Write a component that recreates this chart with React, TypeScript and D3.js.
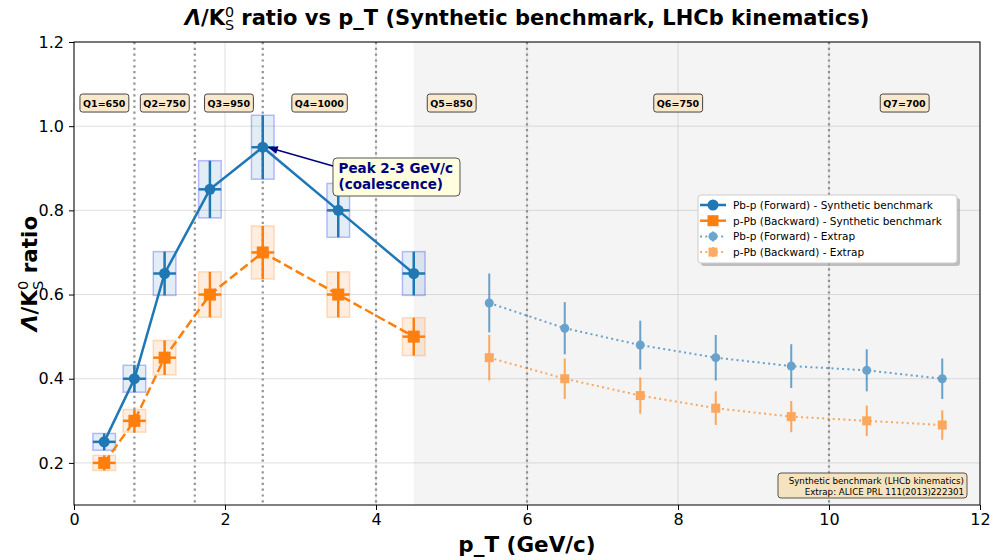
import React, { useEffect, useRef } from 'react';
import * as d3 from 'd3';

const ptMain = [0.4, 0.8, 1.2, 1.8, 2.5, 3.5, 4.5];
const fwdRatio = [0.25, 0.4, 0.65, 0.85, 0.95, 0.8, 0.65];
const fwdErr = [0.02, 0.032, 0.052, 0.068, 0.076, 0.064, 0.052];
const bwdRatio = [0.2, 0.3, 0.45, 0.6, 0.7, 0.6, 0.5];
const bwdErr = [0.018, 0.027, 0.041, 0.054, 0.063, 0.054, 0.045];
const ptExtrap = [5.5, 6.5, 7.5, 8.5, 9.5, 10.5, 11.5];
const fwdExtrap = [0.58, 0.52, 0.48, 0.45, 0.43, 0.42, 0.4];
const fwdExtrapErr = [0.07, 0.062, 0.058, 0.054, 0.052, 0.05, 0.048];
const bwdExtrap = [0.45, 0.4, 0.36, 0.33, 0.31, 0.3, 0.29];
const bwdExtrapErr = [0.054, 0.048, 0.043, 0.04, 0.037, 0.036, 0.035];
const binEdges = [0, 0.8, 1.6, 2.5, 4.0, 6.0, 10.0, 12.0];
const binLabels = ['Q1=650', 'Q2=750', 'Q3=950', 'Q4=1000', 'Q5=850', 'Q6=750', 'Q7=700'];
const xTicks = [0, 2, 4, 6, 8, 10, 12];
const yTicks = [0.2, 0.4, 0.6, 0.8, 1.0, 1.2];
const extrapFrom = 4.5;
const ptHalf = 0.15;

const BLUE = '#1f77b4';
const ORANGE = '#ff7f0e';
const FONT = 'DejaVu Sans';

// writes Λ/K_S^0 plus trailing text into a <text>
const lambdaK = (t, size, rest) => {
  const small = size * 0.68;
  t.append('tspan').attr('font-style', 'italic').text('Λ');
  t.append('tspan').text('/K');
  t.append('tspan').attr('font-size', small).attr('font-weight', 'normal').attr('dy', -size * 0.4).text('0');
  t.append('tspan').attr('font-size', small).attr('font-weight', 'normal')
    .attr('dx', -small * 0.636).attr('dy', size * 0.66).text('S');
  t.append('tspan').attr('dy', -size * 0.26).text(rest);
};

const App = () => {
  const svgRef = useRef(null);

  useEffect(() => {
    const W = 993, H = 560;
    const left = 74, right = 980, top = 42, bottom = 505;

    const svg = d3.select(svgRef.current);
    svg.selectAll('*').remove();
    svg.attr('width', W).attr('height', H).style('font-family', FONT);

    const x = d3.scaleLinear().domain([0, 12]).range([left, right]);
    const y = d3.scaleLinear().domain([0.1, 1.2]).range([bottom, top]);

    svg.append('rect').attr('width', W).attr('height', H).attr('fill', 'white');

    // extrapolation region
    svg.append('rect')
      .attr('x', x(extrapFrom)).attr('y', top)
      .attr('width', x(12) - x(extrapFrom)).attr('height', bottom - top)
      .attr('fill', '#f4f4f4');

    // grid
    const grid = svg.append('g').attr('stroke', '#b0b0b0').attr('stroke-opacity', 0.4).attr('stroke-width', 1);
    xTicks.forEach((t) => grid.append('line').attr('x1', x(t)).attr('x2', x(t)).attr('y1', top).attr('y2', bottom));
    yTicks.forEach((t) => grid.append('line').attr('x1', left).attr('x2', right).attr('y1', y(t)).attr('y2', y(t)));

    // bin boundaries
    binEdges.slice(1, -1).forEach((e) => {
      svg.append('line')
        .attr('x1', x(e)).attr('x2', x(e)).attr('y1', top).attr('y2', bottom)
        .attr('stroke', '#808080').attr('stroke-opacity', 0.85)
        .attr('stroke-width', 2.2).attr('stroke-dasharray', '2.2,3.6');
    });

    // bin labels
    binLabels.forEach((lab, i) => {
      const cx = x((binEdges[i] + binEdges[i + 1]) / 2);
      const cy = y(1.055);
      const g = svg.append('g');
      const t = g.append('text')
        .attr('x', cx).attr('y', cy + 3.5)
        .attr('text-anchor', 'middle').attr('font-size', 9.5).attr('font-weight', 'bold')
        .text(lab);
      const bb = t.node().getBBox();
      g.insert('rect', 'text')
        .attr('x', bb.x - 3).attr('y', cy - 9).attr('width', bb.width + 6).attr('height', 18)
        .attr('rx', 2.5).attr('fill', '#f8e8cc').attr('stroke', '#444').attr('stroke-width', 1);
    });

    // systematic boxes
    const sysBoxes = (vals, errs, fill, stroke) => {
      ptMain.forEach((p, i) => {
        svg.append('rect')
          .attr('x', x(p - ptHalf)).attr('y', y(vals[i] + errs[i]))
          .attr('width', x(p + ptHalf) - x(p - ptHalf))
          .attr('height', y(vals[i] - errs[i]) - y(vals[i] + errs[i]))
          .attr('fill', fill).attr('fill-opacity', 0.13)
          .attr('stroke', stroke).attr('stroke-opacity', 0.25).attr('stroke-width', 1.5);
      });
    };
    sysBoxes(fwdRatio, fwdErr, BLUE, '#0000ff');
    sysBoxes(bwdRatio, bwdErr, ORANGE, ORANGE);

    const line = d3.line().x((d) => x(d[0])).y((d) => y(d[1]));

    // main series
    const mainSeries = (vals, errs, color, dash, marker) => {
      svg.append('path')
        .attr('d', line(ptMain.map((p, i) => [p, vals[i]])))
        .attr('fill', 'none').attr('stroke', color).attr('stroke-width', 2.5)
        .attr('stroke-dasharray', dash);
      ptMain.forEach((p, i) => {
        svg.append('line')
          .attr('x1', x(p)).attr('x2', x(p)).attr('y1', y(vals[i] - errs[i])).attr('y2', y(vals[i] + errs[i]))
          .attr('stroke', color).attr('stroke-width', 2.5);
        svg.append('line')
          .attr('x1', x(p - ptHalf)).attr('x2', x(p + ptHalf)).attr('y1', y(vals[i])).attr('y2', y(vals[i]))
          .attr('stroke', color).attr('stroke-width', 2.5);
        if (marker === 'circle') {
          svg.append('circle').attr('cx', x(p)).attr('cy', y(vals[i])).attr('r', 5.5).attr('fill', color);
        } else {
          svg.append('rect').attr('x', x(p) - 6).attr('y', y(vals[i]) - 6)
            .attr('width', 12).attr('height', 12).attr('fill', color);
        }
      });
    };
    mainSeries(fwdRatio, fwdErr, BLUE, null, 'circle');
    mainSeries(bwdRatio, bwdErr, ORANGE, '9.25,4', 'square');

    // extrapolated series
    const extrapSeries = (vals, errs, color, marker) => {
      const g = svg.append('g').attr('opacity', 0.65);
      g.append('path')
        .attr('d', line(ptExtrap.map((p, i) => [p, vals[i]])))
        .attr('fill', 'none').attr('stroke', color).attr('stroke-width', 2)
        .attr('stroke-dasharray', '2,3.3');
      ptExtrap.forEach((p, i) => {
        g.append('line')
          .attr('x1', x(p)).attr('x2', x(p)).attr('y1', y(vals[i] - errs[i])).attr('y2', y(vals[i] + errs[i]))
          .attr('stroke', color).attr('stroke-width', 2);
        if (marker === 'circle') {
          g.append('circle').attr('cx', x(p)).attr('cy', y(vals[i])).attr('r', 4.5).attr('fill', color);
        } else {
          g.append('rect').attr('x', x(p) - 4.5).attr('y', y(vals[i]) - 4.5)
            .attr('width', 9).attr('height', 9).attr('fill', color);
        }
      });
    };
    extrapSeries(fwdExtrap, fwdExtrapErr, BLUE, 'circle');
    extrapSeries(bwdExtrap, bwdExtrapErr, ORANGE, 'square');

    // frame + axes
    svg.append('rect')
      .attr('x', left).attr('y', top).attr('width', right - left).attr('height', bottom - top)
      .attr('fill', 'none').attr('stroke', 'black').attr('stroke-width', 1);

    const xAxis = svg.append('g').attr('transform', `translate(0,${bottom})`)
      .call(d3.axisBottom(x).tickValues(xTicks).tickFormat(d3.format('d')).tickSize(5).tickPadding(4));
    const yAxis = svg.append('g').attr('transform', `translate(${left},0)`)
      .call(d3.axisLeft(y).tickValues(yTicks).tickFormat(d3.format('.1f')).tickSize(5).tickPadding(5));
    [xAxis, yAxis].forEach((a) => {
      a.select('.domain').remove();
      a.selectAll('text').attr('font-size', 16).attr('font-family', FONT).attr('fill', 'black');
    });

    // title and labels
    const title = svg.append('text')
      .attr('x', (left + right) / 2).attr('y', 25)
      .attr('text-anchor', 'middle').attr('font-size', 21).attr('font-weight', 'bold');
    lambdaK(title, 21, ' ratio vs p_T (Synthetic benchmark, LHCb kinematics)');

    svg.append('text')
      .attr('x', (left + right) / 2).attr('y', 552)
      .attr('text-anchor', 'middle').attr('font-size', 21.5).attr('font-weight', 'bold')
      .text('p_T (GeV/c)');

    const ylab = svg.append('text')
      .attr('transform', `translate(37,${(top + bottom) / 2}) rotate(-90)`)
      .attr('text-anchor', 'middle').attr('font-size', 21.5).attr('font-weight', 'bold');
    lambdaK(ylab, 21.5, ' ratio');

    // peak annotation
    const ax = x(3.47), ay = 158;
    const ann = svg.append('g');
    ann.append('rect')
      .attr('x', ax - 3).attr('y', ay).attr('width', 127).attr('height', 38)
      .attr('rx', 4).attr('fill', '#ffffe0').attr('stroke', '#555').attr('stroke-width', 1);
    ann.append('text').attr('x', ax + 2.5).attr('y', ay + 15).attr('font-size', 13.5)
      .attr('font-weight', 'bold').attr('fill', '#000080').text('Peak 2-3 GeV/c');
    ann.append('text').attr('x', ax + 2.5).attr('y', ay + 31).attr('font-size', 13.5)
      .attr('font-weight', 'bold').attr('fill', '#000080').text('(coalescence)');
    const tipX = x(2.5) + 5, tipY = y(0.95);
    const fromX = ax - 3, fromY = ay + 8;
    const ang = Math.atan2(fromY - tipY, fromX - tipX);
    ann.append('line')
      .attr('x1', fromX).attr('y1', fromY)
      .attr('x2', tipX + 8 * Math.cos(ang)).attr('y2', tipY + 8 * Math.sin(ang))
      .attr('stroke', '#000080').attr('stroke-width', 1.5);
    const hl = 10, hw = 4;
    const bx = tipX + hl * Math.cos(ang), by = tipY + hl * Math.sin(ang);
    ann.append('path')
      .attr('d', `M${tipX},${tipY} L${bx - hw * Math.sin(ang)},${by + hw * Math.cos(ang)} L${bx + hw * Math.sin(ang)},${by - hw * Math.cos(ang)} Z`)
      .attr('fill', '#000080');

    // legend
    const lx = 698, ly = 195, lw = 259, lh = 68;
    const leg = svg.append('g');
    leg.append('rect').attr('x', lx + 3).attr('y', ly + 3).attr('width', lw).attr('height', lh)
      .attr('rx', 3).attr('fill', '#888').attr('opacity', 0.5);
    leg.append('rect').attr('x', lx).attr('y', ly).attr('width', lw).attr('height', lh)
      .attr('rx', 3).attr('fill', 'white').attr('stroke', '#ccc').attr('stroke-width', 1);
    const entries = [
      { label: 'Pb-p (Forward) - Synthetic benchmark', color: BLUE, marker: 'circle', extrap: false },
      { label: 'p-Pb (Backward) - Synthetic benchmark', color: ORANGE, marker: 'square', extrap: false },
      { label: 'Pb-p (Forward) - Extrap', color: BLUE, marker: 'circle', extrap: true },
      { label: 'p-Pb (Backward) - Extrap', color: ORANGE, marker: 'square', extrap: true },
    ];
    entries.forEach((e, i) => {
      const cy = ly + 10 + i * 15.7;
      const hx = lx + 15;
      const g = leg.append('g').attr('opacity', e.extrap ? 0.65 : 1);
      g.append('line').attr('x1', hx - 13).attr('x2', hx + 13).attr('y1', cy).attr('y2', cy)
        .attr('stroke', e.color).attr('stroke-width', e.extrap ? 2 : 2.5)
        .attr('stroke-dasharray', e.extrap ? '2,3.3' : null);
      g.append('line').attr('x1', hx).attr('x2', hx).attr('y1', cy - 5).attr('y2', cy + 5)
        .attr('stroke', e.color).attr('stroke-width', e.extrap ? 2 : 2.5);
      const r = e.extrap ? 4.5 : 5.5;
      if (e.marker === 'circle') {
        g.append('circle').attr('cx', hx).attr('cy', cy).attr('r', r).attr('fill', e.color);
      } else {
        g.append('rect').attr('x', hx - r).attr('y', cy - r).attr('width', 2 * r).attr('height', 2 * r).attr('fill', e.color);
      }
      leg.append('text').attr('x', lx + 35).attr('y', cy + 4).attr('font-size', 10.5).text(e.label);
    });

    // source box
    const sb = svg.append('g');
    sb.append('rect').attr('x', 778).attr('y', 473).attr('width', 189).attr('height', 25)
      .attr('rx', 3).attr('fill', '#f5deb3').attr('fill-opacity', 0.8).attr('stroke', '#555').attr('stroke-width', 1);
    sb.append('text').attr('x', 964).attr('y', 484).attr('text-anchor', 'end').attr('font-size', 8.7)
      .text('Synthetic benchmark (LHCb kinematics)');
    sb.append('text').attr('x', 964).attr('y', 494.5).attr('text-anchor', 'end').attr('font-size', 8.7)
      .text('Extrap: ALICE PRL 111(2013)222301');
  }, []);

  return (
    <svg ref={svgRef} style={{ position: 'absolute', left: 0, top: 0 }}></svg>
  );
};

export default App;
